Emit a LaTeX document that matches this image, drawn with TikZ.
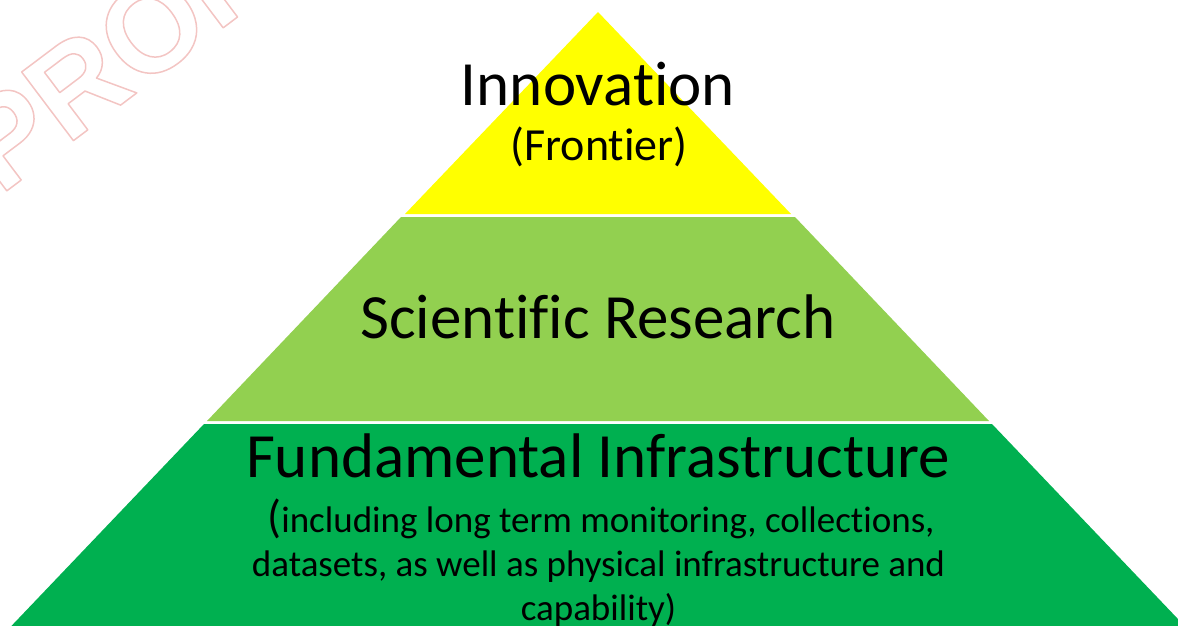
\documentclass[tikz,border=0pt]{standalone}
\usepackage{fontspec}
\setmainfont{Carlito}[Ligatures={NoCommon,NoContextual}, RawFeature={-liga;-clig;-rlig;-dlig;-calt;-ccmp}]
\newfontfamily\stampfont{Liberation Sans}

\definecolor{topyellow}{RGB}{255,255,0}
\definecolor{midgreen}{RGB}{146,208,80}
\definecolor{basegreen}{RGB}{0,176,80}

%korvonalas betuk: kitoltes helyett a betuk szelet huzza meg
\newcommand{\outlined}[1]{\special{pdf:code q 1 Tr 1.5 w 1 j 0.953 0.773 0.765 RG}#1\special{pdf:code Q}}

\tikzset{
  layer/.style={draw=none},
  bigtext/.style={font=\fontsize{63}{70}\selectfont, anchor=base, inner sep=0pt},
  subtext/.style={font=\fontsize{46}{50}\selectfont, anchor=base, inner sep=0pt},
  notetext/.style={font=\fontsize{37}{44}\selectfont, anchor=base, inner sep=0pt},
  stamp/.style={font=\stampfont\bfseries\fontsize{125}{125}\selectfont,
    anchor=base west, rotate=37, inner sep=0pt}
}

\begin{document}
\begin{tikzpicture}[x=1pt, y=-1pt]
    \useasboundingbox (0,0) rectangle (1178,625);
    \clip (0,0) rectangle (1178,625);

    %stempli a bal felso sarokban
    \node[stamp] (wm) at (0,196) {\outlined{PROPERTY}};

    %a piramis harom retege, a csucs (598,12), a meredekseg 0.955
    \fill[layer, topyellow] (598,12) -- (598+193,214) -- (598-193,214) -- cycle;
    \fill[layer, midgreen] (598-197,217) -- (598+197,217) -- (598+391,421) -- (598-391,421) -- cycle;
    \fill[layer, basegreen] (598-394,424) -- (598+394,424) -- (598+600,640) -- (598-600,640) -- cycle;

    %feliratok
    \node[bigtext] (innov) at (598,105) {Innovation};
    \node[subtext] (front) at (599,160) {(Frontier)};
    \node[bigtext] (research) at (598,338) {Scientific Research};
    \node[bigtext] (infra) at (598,477) {Fundamental Infrastructure};
    \node[notetext] (noteA) at (601,532) {{\fontsize{46}{46}\selectfont(}including long term monitoring, collections,};
    \node[notetext] (noteB) at (598.5,576) {datasets, as well as physical infrastructure and};
    \node[notetext] (noteC) at (598.5,620) {capability)};
\end{tikzpicture}
\end{document}
